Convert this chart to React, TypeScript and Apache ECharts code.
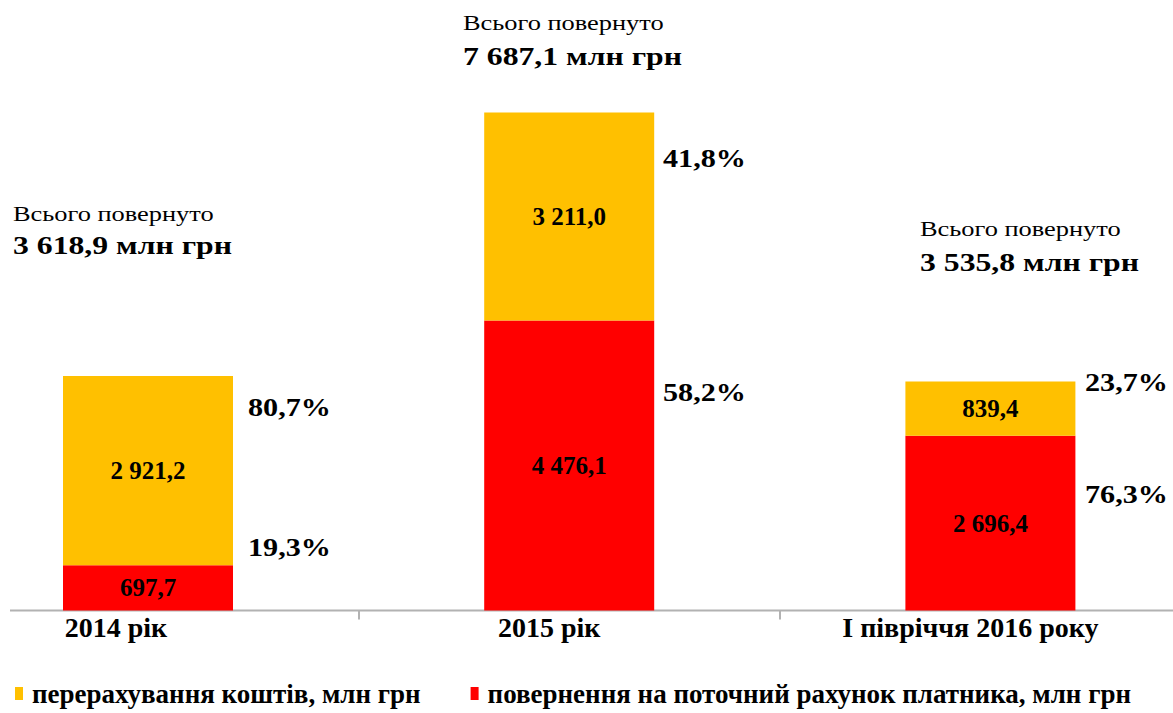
import React, { useEffect, useRef } from "react";
import * as echarts from "echarts";

const categories = ["2014 рік", "2015 рік", "І півріччя 2016 року"];
const refundToAccount = [697.7, 4476.1, 2696.4]; // red
const transfers = [2921.2, 3211.0, 839.4]; // yellow
const totals = [3618.9, 7687.1, 3535.8];
const transferPct = ["80,7%", "41,8%", "23,7%"];
const accountPct = ["19,3%", "58,2%", "76,3%"];
const seriesNames = [
  "перерахування коштів, млн грн",
  "повернення на поточний рахунок платника, млн грн",
];
const totalCaption = "Всього повернуто";

const FONT = "Liberation Serif";

function fmt(v: number): string {
  const [i, d] = v.toFixed(1).split(".");
  const withSp = i.replace(/\B(?=(\d{3})+(?!\d))/g, " ");
  return withSp + "," + d;
}

export default function App() {
  const ref = useRef<HTMLDivElement>(null);
  useEffect(() => {
    if (!ref.current) return;
    const chart = echarts.init(ref.current, null, { renderer: "svg" });

    const totalPos = [
      [13, 213, 245],
      [463, 22, 56],
      [920, 228, 262],
    ];
    const pctPos = [
      [248, 407, 547],
      [663, 158, 392],
      [1085, 382, 494],
    ];
    const txt = (
      x: number,
      y: number,
      text: string,
      size: number,
      bold: boolean,
      sx: number
    ) => ({
      type: "text",
      x,
      y,
      scaleX: sx,
      style: {
        text,
        fontFamily: FONT,
        fontSize: size,
        fontWeight: bold ? "bold" : "normal",
        fill: "#000",
        verticalAlign: "middle",
      },
    });
    const graphics: any[] = [
      {
        type: "line",
        shape: { x1: 10, y1: 610.5, x2: 1173, y2: 610.5 },
        style: { stroke: "#B2B2B2", lineWidth: 2 },
        z: 1,
      },
    ];
    totals.forEach((t, i) => {
      graphics.push(txt(totalPos[i][0], totalPos[i][1], totalCaption, 22, false, 1.2));
      graphics.push(
        txt(totalPos[i][0], totalPos[i][2], fmt(t) + " млн грн", 26, true, 1.22)
      );
      graphics.push(txt(pctPos[i][0], pctPos[i][1], transferPct[i], 26, true, 1.16));
      graphics.push(txt(pctPos[i][0], pctPos[i][2], accountPct[i], 26, true, 1.16));
    });

    const valueLabel = {
      show: true,
      position: "inside",
      color: "#000",
      fontFamily: FONT,
      fontWeight: "bold",
      fontSize: 25,
      formatter: (p: any) => fmt(p.value),
    };

    const catData = categories.map((c, i) => ({
      value: c,
      textStyle: { padding: i === 0 ? [0, 64, 0, 0] : [0, 40, 0, 0] },
    }));

    chart.setOption({
      animation: false,
      backgroundColor: "#fff",
      grid: {
        left: -62.6,
        right: -28,
        top: 610.5 - 8000 * 0.06478,
        bottom: 713 - 610.5,
        containLabel: false,
        outerBoundsMode: "none",
      },
      legend: {
        data: [seriesNames[0], seriesNames[1]],
        left: 10,
        top: 675,
        icon: "rect",
        itemWidth: 8,
        itemHeight: 13,
        itemGap: 50,
        textStyle: {
          fontFamily: FONT,
          fontWeight: "bold",
          fontSize: 27,
          color: "#000",
          padding: [0, 0, 0, 4],
        },
      },
      xAxis: {
        type: "category",
        data: catData,
        axisLine: { show: false },
        axisTick: {
          show: true,
          length: 9,
          lineStyle: { color: "#B2B2B2", width: 2 },
        },
        axisLabel: {
          margin: 3,
          fontFamily: FONT,
          fontWeight: "bold",
          fontSize: 28,
          color: "#000",
          padding: [0, 40, 0, 0],
        },
      },
      yAxis: {
        type: "value",
        min: 0,
        max: 8000,
        show: false,
        splitLine: { show: false },
      },
      series: [
        {
          name: seriesNames[1],
          type: "bar",
          stack: "total",
          barWidth: 170,
          data: refundToAccount,
          itemStyle: { color: "#FF0000" },
          label: valueLabel,
        },
        {
          name: seriesNames[0],
          type: "bar",
          stack: "total",
          barWidth: 170,
          data: transfers,
          itemStyle: { color: "#FFC000" },
          label: valueLabel,
        },
      ],
      graphic: graphics,
    });
    return () => chart.dispose();
  }, []);
  return (
    <div
      ref={ref}
      style={{ position: "absolute", left: 0, top: 0, width: 1173, height: 713 }}
    />
  );
}
